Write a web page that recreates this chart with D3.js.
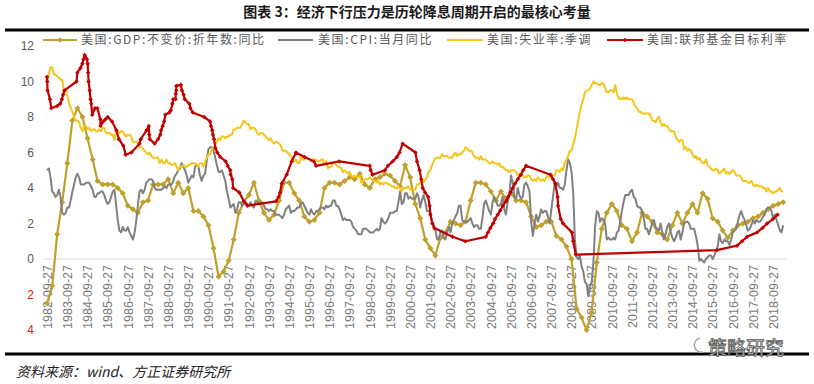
<!DOCTYPE html>
<html>
<head>
<meta charset="utf-8">
<script src="https://d3js.org/d3.v7.min.js"></script>
<style>
  body { margin: 0; background: #fff; }
  svg { display: block; }
</style>
</head>
<body>
<script>

// ---- data ----

// GDP yoy, quarterly, 1982Q3 .. 2019Q1
var gdpYoY = [
  -2.5, -1.5,
  1.4, 3.2, 5.4, 7.8,   8.5, 8.0, 6.8, 5.6,   4.4, 4.2, 4.2, 4.2,   4.0, 3.7, 3.0, 2.8,
  2.6, 3.2, 3.3, 4.2,   4.2, 4.2, 4.5, 3.7,   4.3, 3.7, 4.0, 2.7,   2.7, 2.4, 1.9, 0.6,
  -1.0, -0.7, -0.1, 1.1, 2.6, 3.2, 3.6, 4.3,  3.3, 2.6, 2.2, 2.5,   3.3, 4.3, 4.3, 3.7,
  3.3, 2.4, 2.1, 2.2,   2.6, 4.0, 4.3, 4.3,   4.2, 4.4, 4.6, 4.5,   4.8, 4.2, 4.0, 4.5,
  4.6, 4.8, 4.7, 4.4,   4.1, 5.3, 4.6, 3.1,   2.3, 1.1, 0.6, 0.2,   1.2, 1.5, 2.1, 2.0,
  1.9, 2.1, 3.3, 4.3,   4.3, 4.2, 3.8, 3.3,   3.8, 3.4, 3.7, 3.3,   3.3, 3.2, 2.4, 1.8,
  1.9, 2.1, 2.1, 1.3,   1.1, 0.7, 0.0, -2.8,  -3.3, -4.0, -3.0, -0.2, 1.7, 2.6, 3.1, 2.7,
  1.9, 1.7, 1.0, 1.5,   2.6, 2.4, 2.1, 1.5,   1.4, 1.1, 1.9, 2.6,   2.0, 2.6, 3.1, 2.6,
  3.7, 3.4, 2.3, 2.1,   1.6, 1.2, 1.6, 1.9,   2.0, 2.1, 2.3, 2.4,   2.6, 2.8, 3.0, 3.1,
  3.2
];

// CPI yoy, monthly, 1982-09 .. 2019-03
var cpiYoY = [
  5.0, 5.1, 4.6, 3.8,
  3.7, 3.5, 3.6, 3.9, 3.5, 2.6, 2.5, 2.6, 2.9, 2.9, 3.3, 3.8,
  4.2, 4.6, 4.8, 4.6, 4.2, 4.2, 4.2, 4.3, 4.3, 4.3, 4.1, 3.9,
  3.5, 3.5, 3.7, 3.7, 3.8, 3.8, 3.6, 3.3, 3.1, 3.2, 3.5, 3.8,
  3.9, 3.1, 2.2, 1.6, 1.5, 1.8, 1.6, 1.6, 1.8, 1.5, 1.3, 1.1,
  1.5, 2.1, 3.0, 3.8, 3.9, 3.7, 3.9, 4.3, 4.4, 4.5, 4.5, 4.4,
  4.0, 3.9, 3.9, 3.9, 3.9, 4.0, 4.1, 4.0, 4.2, 4.2, 4.2, 4.4,
  4.7, 4.8, 5.0, 5.1, 5.4, 5.2, 5.0, 4.7, 4.3, 4.5, 4.7, 4.6,
  5.2, 5.3, 5.2, 4.7, 4.4, 4.7, 4.8, 5.6, 6.2, 6.3, 6.3, 6.1,
  5.7, 5.3, 4.9, 4.9, 5.0, 4.7, 4.4, 3.8, 3.4, 2.9, 3.0, 3.1,
  2.6, 2.8, 3.2, 3.2, 3.0, 3.1, 3.2, 3.1, 3.0, 3.2, 3.0, 2.9,
  3.3, 3.2, 3.1, 3.2, 3.2, 3.0, 2.8, 2.8, 2.7, 2.8, 2.7, 2.7,
  2.5, 2.5, 2.5, 2.4, 2.3, 2.5, 2.8, 2.9, 3.0, 2.6, 2.7, 2.7,
  2.8, 2.9, 2.9, 3.1, 3.2, 3.0, 2.8, 2.6, 2.5, 2.8, 2.6, 2.5,
  2.7, 2.7, 2.8, 2.9, 2.9, 2.8, 3.0, 2.9, 3.0, 3.0, 3.3, 3.3,
  3.0, 3.0, 2.8, 2.5, 2.2, 2.3, 2.2, 2.2, 2.2, 2.1, 1.8, 1.7,
  1.6, 1.4, 1.4, 1.4, 1.7, 1.7, 1.7, 1.6, 1.5, 1.5, 1.5, 1.6,
  1.7, 1.6, 1.7, 2.3, 2.1, 2.0, 2.1, 2.3, 2.6, 2.6, 2.6, 2.7,
  2.7, 3.2, 3.8, 3.1, 3.2, 3.7, 3.7, 3.4, 3.5, 3.4, 3.4, 3.4,
  3.7, 3.5, 2.9, 3.3, 3.6, 3.2, 2.7, 2.7, 2.6, 2.1, 1.9, 1.6,
  1.1, 1.1, 1.5, 1.6, 1.2, 1.1, 1.5, 1.8, 1.5, 2.0, 2.2, 2.4,
  2.6, 3.0, 3.0, 2.2, 2.1, 2.1, 2.1, 2.2, 2.3, 2.0, 1.8, 1.9,
  1.9, 1.7, 1.7, 2.3, 3.1, 3.3, 3.0, 2.7, 2.5, 3.2, 3.5, 3.3,
  3.0, 3.0, 3.1, 3.5, 2.8, 2.5, 3.2, 3.6, 4.7, 4.3, 3.5, 3.4,
  4.0, 3.6, 3.4, 3.5, 4.2, 4.3, 4.1, 3.8, 2.1, 1.3, 2.0, 2.5,
  2.1, 2.4, 2.8, 2.6, 2.7, 2.7, 2.4, 2.0, 2.8, 3.5, 4.3, 4.1,
  4.3, 4.0, 4.0, 3.9, 4.2, 5.0, 5.6, 5.4, 4.9, 3.7, 1.1, 0.1,
  0.0, 0.2, -0.4, -0.7, -1.3, -1.4, -2.1, -1.5, -1.3, -0.2, 1.8, 2.7,
  2.6, 2.1, 2.3, 2.2, 2.0, 1.1, 1.2, 1.1, 1.1, 1.2, 1.1, 1.5,
  1.6, 2.1, 2.7, 3.2, 3.6, 3.6, 3.6, 3.8, 3.9, 3.5, 3.4, 3.0,
  2.9, 2.9, 2.7, 2.3, 1.7, 1.7, 1.4, 1.7, 2.0, 2.2, 1.8, 1.7,
  1.6, 2.0, 1.5, 1.1, 1.4, 1.8, 2.0, 1.5, 1.2, 1.0, 1.2, 1.5,
  1.6, 1.1, 1.5, 2.0, 2.1, 2.1, 2.0, 1.7, 1.7, 1.7, 1.3, 0.8,
  -0.1, 0.0, -0.1, -0.2, 0.0, 0.1, 0.2, 0.2, 0.0, 0.2, 0.5, 0.7,
  1.4, 1.0, 0.9, 1.1, 1.0, 1.0, 0.8, 1.1, 1.5, 1.6, 1.7, 2.1,
  2.5, 2.7, 2.4, 2.2, 1.9, 1.6, 1.7, 1.9, 2.2, 2.0, 2.2, 2.1,
  2.1, 2.2, 2.4, 2.5, 2.8, 2.9, 2.9, 2.7, 2.3, 2.5, 2.2, 1.9,
  1.6, 1.5, 1.9
];

// unemployment rate, seasonally adjusted, monthly, 1982-09 .. 2019-03
var unempRate = [
  10.1, 10.4, 10.8, 10.8,
  10.4, 10.4, 10.3, 10.2, 10.1, 10.1, 9.4, 9.5, 9.2, 8.8, 8.5, 8.3,
  8.0, 7.8, 7.8, 7.7, 7.4, 7.2, 7.5, 7.5, 7.3, 7.4, 7.2, 7.3,
  7.3, 7.2, 7.2, 7.3, 7.2, 7.4, 7.4, 7.1, 7.1, 7.1, 7.0, 7.0,
  6.7, 7.2, 7.2, 7.1, 7.2, 7.2, 7.0, 6.9, 7.0, 7.0, 6.9, 6.6,
  6.6, 6.6, 6.6, 6.3, 6.3, 6.2, 6.1, 6.0, 5.9, 6.0, 5.8, 5.7,
  5.7, 5.7, 5.7, 5.4, 5.6, 5.4, 5.4, 5.6, 5.4, 5.4, 5.3, 5.3,
  5.4, 5.2, 5.0, 5.2, 5.2, 5.3, 5.2, 5.2, 5.3, 5.3, 5.4, 5.4,
  5.4, 5.3, 5.2, 5.4, 5.4, 5.2, 5.5, 5.7, 5.9, 5.9, 6.2, 6.3,
  6.4, 6.6, 6.8, 6.7, 6.9, 6.9, 6.8, 6.9, 6.9, 7.0, 7.0, 7.3,
  7.3, 7.4, 7.4, 7.4, 7.6, 7.8, 7.7, 7.6, 7.6, 7.3, 7.4, 7.4,
  7.3, 7.1, 7.0, 7.1, 7.1, 7.0, 6.9, 6.8, 6.7, 6.8, 6.6, 6.5,
  6.6, 6.6, 6.5, 6.4, 6.1, 6.1, 6.1, 6.0, 5.9, 5.8, 5.6, 5.5,
  5.6, 5.4, 5.4, 5.8, 5.6, 5.6, 5.7, 5.7, 5.6, 5.5, 5.6, 5.6,
  5.6, 5.5, 5.5, 5.6, 5.6, 5.3, 5.5, 5.1, 5.2, 5.2, 5.4, 5.4,
  5.3, 5.2, 5.2, 5.1, 4.9, 5.0, 4.9, 4.8, 4.9, 4.7, 4.6, 4.7,
  4.6, 4.6, 4.7, 4.3, 4.4, 4.5, 4.5, 4.5, 4.6, 4.5, 4.4, 4.4,
  4.3, 4.4, 4.2, 4.3, 4.2, 4.3, 4.3, 4.2, 4.2, 4.1, 4.1, 4.0,
  4.0, 4.1, 4.0, 3.8, 4.0, 4.0, 4.0, 4.1, 3.9, 3.9, 3.9, 3.9,
  4.2, 4.2, 4.3, 4.4, 4.3, 4.5, 4.6, 4.9, 5.0, 5.3, 5.5, 5.7,
  5.7, 5.7, 5.7, 5.9, 5.8, 5.8, 5.8, 5.7, 5.7, 5.7, 5.9, 6.0,
  5.8, 5.9, 5.9, 6.0, 6.1, 6.3, 6.2, 6.1, 6.1, 6.0, 5.8, 5.7,
  5.7, 5.6, 5.8, 5.6, 5.6, 5.6, 5.5, 5.4, 5.4, 5.5, 5.4, 5.4,
  5.3, 5.4, 5.2, 5.2, 5.1, 5.0, 5.0, 4.9, 5.0, 5.0, 5.0, 4.9,
  4.7, 4.8, 4.7, 4.7, 4.6, 4.6, 4.7, 4.7, 4.5, 4.4, 4.5, 4.4,
  4.6, 4.5, 4.4, 4.5, 4.4, 4.6, 4.7, 4.6, 4.7, 4.7, 4.7, 5.0,
  5.0, 4.9, 5.1, 5.0, 5.4, 5.6, 5.8, 6.1, 6.1, 6.5, 6.8, 7.3,
  7.8, 8.3, 8.7, 9.0, 9.4, 9.5, 9.5, 9.6, 9.8, 10.0, 9.9, 9.9,
  9.8, 9.8, 9.9, 9.9, 9.6, 9.4, 9.4, 9.5, 9.5, 9.4, 9.8, 9.3,
  9.1, 9.0, 9.0, 9.1, 9.0, 9.1, 9.0, 9.0, 9.0, 8.8, 8.6, 8.5,
  8.3, 8.3, 8.2, 8.2, 8.2, 8.2, 8.2, 8.1, 7.8, 7.8, 7.7, 7.9,
  8.0, 7.7, 7.5, 7.6, 7.5, 7.5, 7.3, 7.2, 7.2, 7.2, 6.9, 6.7,
  6.6, 6.7, 6.7, 6.2, 6.3, 6.1, 6.2, 6.1, 5.9, 5.7, 5.8, 5.6,
  5.7, 5.5, 5.4, 5.4, 5.6, 5.3, 5.2, 5.1, 5.0, 5.0, 5.1, 5.0,
  4.8, 4.9, 5.0, 5.1, 4.8, 4.9, 4.8, 4.9, 5.0, 4.9, 4.7, 4.7,
  4.7, 4.6, 4.4, 4.4, 4.4, 4.3, 4.3, 4.4, 4.2, 4.1, 4.2, 4.1,
  4.1, 4.1, 4.0, 4.0, 3.8, 4.0, 3.8, 3.8, 3.7, 3.8, 3.8, 3.9,
  4.0, 3.8, 3.8
];

// fed funds target rate, at each change
var fedDates = [
  "1982-09-27", "1982-10-01", "1982-10-07", "1982-11-19", "1982-12-14",
  "1983-03-31", "1983-05-25", "1983-06-24", "1983-07-14", "1983-08-10",
  "1984-03-15", "1984-03-29", "1984-05-24", "1984-06-28", "1984-07-19", "1984-08-09",
  "1984-09-20", "1984-10-02", "1984-10-11", "1984-10-19", "1984-11-08", "1984-11-23",
  "1984-12-06", "1984-12-24",
  "1985-02-14", "1985-03-28", "1985-05-20", "1985-05-24", "1985-07-11", "1985-08-21",
  "1985-10-01", "1985-12-18",
  "1986-03-07", "1986-04-21", "1986-07-11", "1986-08-21", "1986-12-04",
  "1987-04-30", "1987-05-22", "1987-09-04", "1987-10-15", "1987-10-22", "1987-11-04",
  "1988-01-28", "1988-03-30", "1988-05-09", "1988-05-25", "1988-06-22", "1988-07-19",
  "1988-08-09", "1988-10-20", "1988-11-17", "1988-12-15", "1988-12-29",
  "1989-02-09", "1989-02-14", "1989-02-23", "1989-02-24", "1989-05-17", "1989-06-06",
  "1989-07-07", "1989-07-27", "1989-10-18", "1989-11-06", "1989-12-20",
  "1990-07-13", "1990-10-29", "1990-11-14", "1990-12-07", "1990-12-19",
  "1991-01-09", "1991-02-01", "1991-03-08", "1991-04-30", "1991-08-06", "1991-09-13",
  "1991-10-31", "1991-11-06", "1991-12-06", "1991-12-20",
  "1992-04-09", "1992-07-02", "1992-09-04",
  "1994-02-04", "1994-03-22", "1994-04-18", "1994-05-17", "1994-08-16", "1994-11-15",
  "1995-02-01", "1995-07-06", "1995-12-19", "1996-01-31", "1997-03-25",
  "1998-09-29", "1998-10-15", "1998-11-17",
  "1999-06-30", "1999-08-24", "1999-11-16",
  "2000-02-02", "2000-03-21", "2000-05-16",
  "2001-01-03", "2001-01-31", "2001-03-20", "2001-04-18", "2001-05-15", "2001-06-27",
  "2001-08-21", "2001-09-17", "2001-10-02", "2001-11-06", "2001-12-11",
  "2002-11-06", "2003-06-25",
  "2004-06-30", "2004-08-10", "2004-09-21", "2004-11-10", "2004-12-14",
  "2005-02-02", "2005-03-22", "2005-05-03", "2005-06-30", "2005-08-09", "2005-09-20",
  "2005-11-01", "2005-12-13",
  "2006-01-31", "2006-03-28", "2006-05-10", "2006-06-29",
  "2007-09-18", "2007-10-31", "2007-12-11",
  "2008-01-22", "2008-01-30", "2008-03-18", "2008-04-30", "2008-10-08", "2008-10-29",
  "2008-12-16",
  "2015-12-16", "2016-12-14", "2017-03-15", "2017-06-14", "2017-12-13",
  "2018-03-21", "2018-06-13", "2018-09-26", "2018-12-19"
];
var fedRates = [
  10.25, 10.0, 9.5, 9.0, 8.5,
  8.625, 8.75, 9.0, 9.25, 9.5,
  10.0, 10.5, 10.75, 11.0, 11.25, 11.5,
  11.25, 11.0, 10.5, 10.0, 9.5, 9.0,
  8.75, 8.125,
  8.5, 8.5, 7.875, 7.5, 7.75, 7.875,
  8.0, 7.75,
  7.25, 6.75, 6.375, 5.875, 6.0,
  6.5, 6.75, 7.25, 7.5, 7.0, 6.75,
  6.5, 6.75, 7.0, 7.25, 7.5, 7.75,
  8.125, 8.25, 8.375, 8.75, 9.0,
  9.0, 9.3125, 9.5, 9.75, 9.8125, 9.5,
  9.25, 9.0, 8.75, 8.5, 8.25,
  8.0, 7.75, 7.5, 7.25, 7.0,
  6.75, 6.25, 6.0, 5.75, 5.5, 5.25,
  5.0, 4.75, 4.5, 4.0,
  3.75, 3.25, 3.0,
  3.25, 3.5, 3.75, 4.25, 4.75, 5.5,
  6.0, 5.75, 5.5, 5.25, 5.5,
  5.25, 5.0, 4.75,
  5.0, 5.25, 5.5,
  5.75, 6.0, 6.5,
  6.0, 5.5, 5.0, 4.5, 4.0, 3.75,
  3.5, 3.0, 2.5, 2.0, 1.75,
  1.25, 1.0,
  1.25, 1.5, 1.75, 2.0, 2.25,
  2.5, 2.75, 3.0, 3.25, 3.5, 3.75,
  4.0, 4.25,
  4.5, 4.75, 5.0, 5.25,
  4.75, 4.5, 4.25,
  3.5, 3.0, 2.25, 2.0, 1.5, 1.0,
  0.25,
  0.5, 0.75, 1.0, 1.25, 1.5,
  1.75, 2.0, 2.25, 2.5
];

var seriesNames = ["美国:GDP:不变价:折年数:同比", "美国:CPI:当月同比", "美国:失业率:季调", "美国:联邦基金目标利率"];
var seriesColors = ["#BFA02C", "#808080", "#F5C518", "#C00000"];
var tickYears = d3.range(1982, 2019);
var yTicks = [-4, -2, 0, 2, 4, 6, 8, 10, 12];

// ---- build ----
var W = 814, H = 384;
var parseDay = d3.timeParse("%Y-%m-%d");

var gdp = gdpYoY.map(function(v, i){ return {date: new Date(1982, 9 + 3 * i, 0), value: v}; });
var cpi = cpiYoY.map(function(v, i){ return {date: new Date(1982, 9 + i, 0), value: v}; });
var unemp = unempRate.map(function(v, i){ return {date: new Date(1982, 9 + i, 0), value: v}; });
var fed = fedDates.map(function(d, i){ return {date: parseDay(d), value: fedRates[i]}; });

var svg = d3.select("body").append("svg").attr("width", W).attr("height", H);

var x = d3.scaleTime()
  .domain([parseDay("1982-09-27"), parseDay("2018-09-27")])
  .range([47, 773]);
var y = d3.scaleLinear().domain([-4, 12]).range([330, 46]);

// title + rules
svg.append("text")
  .attr("x", 417).attr("y", 17)
  .attr("text-anchor", "middle")
  .style("font-family", "'Noto Sans CJK SC', sans-serif")
  .style("font-size", "14px").style("font-weight", "700")
  .style("fill", "#1a1a1a")
  .text("图表 3：经济下行压力是历轮降息周期开启的最核心考量");

svg.append("line").attr("x1", 5).attr("x2", 809).attr("y1", 30).attr("y2", 30)
  .style("stroke", "#000").style("stroke-width", 3);
svg.append("line").attr("x1", 5).attr("x2", 809).attr("y1", 354).attr("y2", 354)
  .style("stroke", "#000").style("stroke-width", 3);

// y axis labels (negatives shown red without the minus sign)
var yAxis = svg.append("g")
  .attr("transform", "translate(37,0)")
  .call(d3.axisLeft(y).tickValues(yTicks).tickSize(0).tickFormat(function(d){ return Math.abs(d); }));
yAxis.select(".domain").remove();
yAxis.selectAll("text")
  .style("font-family", "'Liberation Sans', Arial, sans-serif")
  .style("font-size", "12px")
  .style("fill", function(d){ return d < 0 ? "#E02020" : "#595959"; });

// x axis at zero
var xAxis = svg.append("g")
  .attr("transform", "translate(0," + y(0) + ")")
  .call(d3.axisBottom(x)
    .tickValues(tickYears.map(function(yr){ return parseDay(yr + "-09-27"); }))
    .tickSize(0)
    .tickFormat(d3.timeFormat("%Y-%m-%d")));
xAxis.select(".domain").remove();
xAxis.selectAll("text")
  .attr("transform", "rotate(-90)")
  .attr("x", -6).attr("y", 0).attr("dy", "0.35em")
  .attr("text-anchor", "end")
  .style("font-family", "'Liberation Sans', Arial, sans-serif")
  .style("font-size", "12.5px")
  .style("fill", "#7a7a7a");

svg.append("line")
  .attr("x1", 44).attr("x2", 786)
  .attr("y1", y(0)).attr("y2", y(0))
  .style("stroke", "#D9D9D9").style("stroke-width", 1.2);

// lines
var line = d3.line()
  .x(function(d){ return x(d.date); })
  .y(function(d){ return y(d.value); });

var plot = svg.append("g");

function drawSeries(data, color, width){
  plot.append("path").datum(data)
    .attr("d", line)
    .style("fill", "none").style("stroke", color)
    .style("stroke-width", width).style("stroke-linejoin", "round");
}
function drawMarkers(data, color, size){
  plot.append("g").selectAll("path")
    .data(data).enter().append("path")
    .attr("d", d3.symbol(d3.symbolSquare, size))
    .attr("transform", function(d){ return "translate(" + x(d.date) + "," + y(d.value) + ") rotate(45)"; })
    .style("fill", color);
}

drawSeries(gdp, seriesColors[0], 2.2);
drawMarkers(gdp, seriesColors[0], 18);
drawSeries(cpi, seriesColors[1], 2);
drawSeries(unemp, seriesColors[2], 2);
drawSeries(fed, seriesColors[3], 2.2);
drawMarkers(fed, seriesColors[3], 10);

// legend
var legendItems = [
  {x1: 43, x2: 77, tx: 81, marker: 16},
  {x1: 278, x2: 313, tx: 318, marker: 0},
  {x1: 447, x2: 483, tx: 487, marker: 0},
  {x1: 607, x2: 643, tx: 647, marker: 10}
];
var legend = svg.append("g");
legendItems.forEach(function(it, i){
  legend.append("line")
    .attr("x1", it.x1).attr("x2", it.x2).attr("y1", 40).attr("y2", 40)
    .style("stroke", seriesColors[i]).style("stroke-width", 2.2);
  if (it.marker) {
    legend.append("path")
      .attr("d", d3.symbol(d3.symbolSquare, it.marker))
      .attr("transform", "translate(" + (it.x1 + it.x2) / 2 + ",40) rotate(45)")
      .style("fill", seriesColors[i]);
  }
  legend.append("text")
    .attr("x", it.tx).attr("y", 44)
    .style("font-family", "'Noto Sans CJK SC', sans-serif")
    .style("font-size", "12px")
    .style("letter-spacing", "1.6px")
    .style("fill", "#595959")
    .text(seriesNames[i]);
});

// source + watermark
svg.append("text")
  .attr("x", 16).attr("y", 377)
  .style("font-family", "'Noto Sans CJK SC', sans-serif")
  .style("font-size", "14px").style("font-style", "italic")
  .style("fill", "#222")
  .text("资料来源：wind、方正证券研究所");

svg.append("text")
  .attr("x", 708).attr("y", 355)
  .style("font-family", "'Noto Sans CJK SC', sans-serif")
  .style("font-size", "19px")
  .style("fill", "#fff").style("stroke", "#555").style("stroke-width", 0.8)
  .text("策略研究");
svg.append("path")
  .attr("d", "M700,338 A7,7 0 1,0 703,352")
  .style("fill", "none").style("stroke", "#aaa").style("stroke-width", 1.5);

</script>
</body>
</html>
